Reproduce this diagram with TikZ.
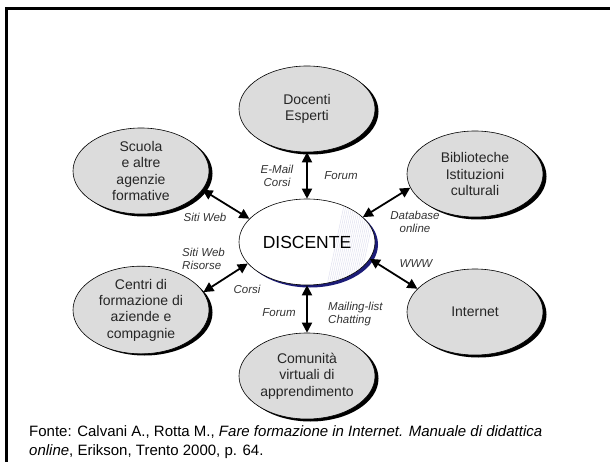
\documentclass[tikz,border=0pt]{standalone}
\usepackage{fontspec}
\setmainfont{Liberation Sans}
\usetikzlibrary{arrows.meta,shapes.geometric}
\definecolor{ellgray}{HTML}{DCDCDC}
\definecolor{navyc}{HTML}{1C1C78}
\definecolor{hatchc}{HTML}{DCDCEE}
\begin{document}
\begin{tikzpicture}[x=1pt,y=-1pt,
  bub/.style={ellipse, draw=black, line width=0.6pt, fill=ellgray, minimum width=136pt, minimum height=86pt, inner sep=0pt, align=center, font=\fontsize{14}{16.3}\selectfont, text=black!85},
  shadowfill/.style={fill=black},
  lab/.style={font=\fontsize{11.5}{13.5}\selectfont\itshape, inner sep=0pt, align=center, text=black!80},
  link/.style={{Triangle[length=10pt,width=10pt]}-{Triangle[length=10pt,width=10pt]}, line width=1.8pt}]
\useasboundingbox (0,0) rectangle (610,462);
% frame
\draw[line width=3pt, line join=miter] (6.5,462) -- (6.5,8.5) -- (610,8.5);
% shadows
\foreach \cx/\cy in {307/109, 141/171, 475/174, 141/310, 475/312, 307/376}
  \fill[shadowfill] (\cx+3.5,\cy+2.5) ellipse[x radius=68pt, y radius=43pt];
% outer nodes
\node[bub] (doc) at (307,109) {Docenti\\Esperti};
\node[bub] (scu) at (141,171) {Scuola\\e altre\\agenzie\\formative};
\node[bub] (bib) at (475,174) {Biblioteche\\Istituzioni\\culturali};
\node[bub] (cen) at (141,310) {Centri di\\formazione di\\aziende e\\compagnie};
\node[bub] (int) at (475,312) {Internet};
\node[bub] (com) at (307,376) {Comunit\`a\\virtuali di\\apprendimento};
% central node
\fill[navyc] (310,244.5) ellipse[x radius=68pt, y radius=43pt];
\fill[white] (307,242) ellipse[x radius=68pt, y radius=43pt];
\begin{scope}
  \clip (307,242) ellipse[x radius=67.5pt, y radius=42.5pt];
  \foreach \i in {0,...,16}
    \draw[hatchc, line width=0.4pt] (346+\i*2,196) -- (326+\i*2,290);
\end{scope}
\node[ellipse, draw=black, line width=0.6pt, minimum width=136pt, minimum height=86pt, inner sep=0pt, font=\fontsize{17.5}{20}\selectfont] (dis) at (307,242) {DISCENTE};
% connectors
\draw[link] (doc.south) -- (dis.north);
\draw[link] (dis.south) -- (com.north);
\draw[link] (scu.-17) -- (dis.158);
\draw[link] (bib.192) -- (dis.24);
\draw[link] (int.158) -- (dis.-15);
\draw[link] (cen.16) -- (dis.200);
% labels
\node[lab] (l1) at (277,176) {E-Mail\\Corsi};
\node[lab] (l2) at (341,176) {Forum};
\node[lab] (l3) at (205,217) {Siti Web};
\node[lab] (l4) at (415,222) {Database\\online};
\node[lab, anchor=west, align=left] (l5) at (182,259) {Siti Web\\Risorse};
\node[lab] (l6) at (247,289) {Corsi};
\node[lab] (l7) at (416,264) {WWW};
\node[lab] (l8) at (279,313) {Forum};
\node[lab, anchor=west, align=left] (l9) at (328,314) {Mailing-list\\Chatting};
% source
\node[anchor=west, align=left, inner sep=0pt, font=\fontsize{15}{19}\selectfont] (src) at (29,442.5)
  {Fonte: Calvani A., Rotta M., \textit{Fare formazione in Internet. Manuale di didattica}\\\textit{online}, Erikson, Trento 2000, p. 64.};
\end{tikzpicture}
\end{document}
